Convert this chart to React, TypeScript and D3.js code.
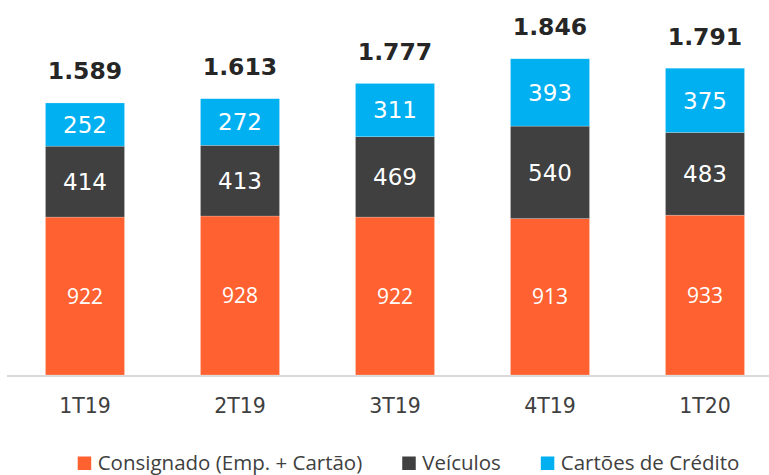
import React, { useEffect, useRef } from 'react';
import * as d3 from 'd3';

const width = 769,
  height = 475;

const categories = ['1T19', '2T19', '3T19', '4T19', '1T20'];
const consignado = [922, 928, 922, 913, 933];
const veiculos = [414, 413, 469, 540, 483];
const cartoes = [252, 272, 311, 393, 375];
const totals = ['1.589', '1.613', '1.777', '1.846', '1.791'];
const seriesNames = ['Consignado (Emp. + Cartão)', 'Veículos', 'Cartões de Crédito'];
const colors = ['#FF6131', '#404040', '#00B0F0'];

const x = d3.scaleBand().domain(categories).range([7.5, 782.5]).paddingInner(0.49).paddingOuter(0.245);
const y = d3.scaleLinear().domain([0, 2000]).range([375, 375 - 2000 * 0.1713]);

export default function App() {
  const ref = useRef<SVGSVGElement>(null);

  useEffect(() => {
    const svg = d3.select(ref.current);
    svg.selectAll('*').remove();

    const rows = categories.map((c, i) => ({ cat: c, consignado: consignado[i], veiculos: veiculos[i], cartoes: cartoes[i] }));
    const stack = d3.stack<any>().keys(['consignado', 'veiculos', 'cartoes'])(rows);

    // axis line
    svg.append('line')
      .attr('x1', 7).attr('x2', width)
      .attr('y1', y(0) + 1).attr('y2', y(0) + 1)
      .attr('stroke', '#d9d9d9').attr('stroke-width', 2);

    stack.forEach((layer, li) => {
      const g = svg.append('g');
      g.selectAll('rect').data(layer).enter().append('rect')
        .attr('x', (d: any) => x(d.data.cat)!)
        .attr('width', x.bandwidth())
        .attr('y', (d: any) => y(d[1]))
        .attr('height', (d: any) => y(d[0]) - y(d[1]))
        .attr('fill', colors[li])
        .attr('stroke', 'rgba(255,255,255,0.35)')
        .attr('stroke-width', 0.6);

      g.selectAll('text').data(layer).enter().append('text')
        .attr('x', (d: any) => x(d.data.cat)! + x.bandwidth() / 2)
        .attr('y', (d: any) => (y(d[0]) + y(d[1])) / 2)
        .attr('dy', '0.36em')
        .attr('text-anchor', 'middle')
        .attr('fill', '#fff')
        .style('font-family', li === 0 ? '"Open Sans", sans-serif' : '"DejaVu Sans", Verdana, sans-serif')
        .style('font-size', li === 0 ? '21px' : '23px')
        .text((d: any) => d[1] - d[0]);
    });

    // totals
    svg.append('g').selectAll('text').data(categories).enter().append('text')
      .attr('x', (c) => x(c)! + x.bandwidth() / 2)
      .attr('y', (c, i) => y(consignado[i] + veiculos[i] + cartoes[i]) - 23.5)
      .attr('text-anchor', 'middle')
      .attr('fill', '#262626')
      .style('font-family', '"DejaVu Sans", Verdana, sans-serif')
      .style('font-weight', 'bold')
      .style('font-size', '23.5px')
      .text((c, i) => totals[i]);

    // category labels
    svg.append('g').selectAll('text').data(categories).enter().append('text')
      .attr('x', (c) => x(c)! + x.bandwidth() / 2)
      .attr('y', 412.5)
      .attr('text-anchor', 'middle')
      .attr('fill', '#404040')
      .style('font-family', '"DejaVu Sans", Verdana, sans-serif')
      .style('font-size', '20.5px')
      .text((c) => c);

    // legend (kept just inside the bottom edge)
    const legend = svg.append('g');
    const items = legend.selectAll('g').data(seriesNames).enter().append('g');
    items.append('rect')
      .attr('width', 13.5).attr('height', 13.5)
      .attr('y', 456.5)
      .attr('fill', (d, i) => colors[i]);
    items.append('text')
      .attr('x', 20)
      .attr('y', 470)
      .attr('fill', '#404040')
      .style('font-family', '"Open Sans", sans-serif')
      .style('font-size', '20.5px')
      .text((d) => d);

    let cx = 0;
    const offsets: number[] = [];
    items.each(function () {
      offsets.push(cx);
      const t = d3.select(this).select('text').node() as SVGTextElement;
      cx += 20 + t.getComputedTextLength() + 40;
    });
    const total = cx - 40;
    const start = 408.5 - total / 2;
    items.attr('transform', (d, i) => `translate(${start + offsets[i]},0)`);
  }, []);

  return (
    <div>
      <svg ref={ref} width={width} height={height} style={{ position: 'absolute', left: 0, top: 0, background: '#fff' }}></svg>
    </div>
  );
}
